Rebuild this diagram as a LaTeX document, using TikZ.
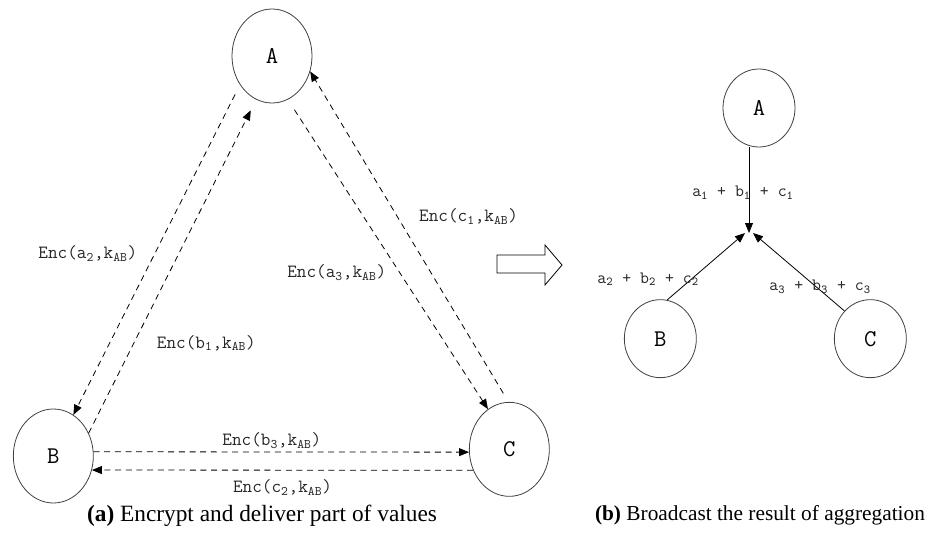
\documentclass[tikz,border=0pt]{standalone}
\usepackage{fontspec}
\setmainfont{Liberation Serif}
\usetikzlibrary{arrows.meta,positioning,shapes.geometric}

\begin{document}
\begin{tikzpicture}[x=0.75pt,y=-0.75pt,font=\ttfamily\fontsize{14}{16}\selectfont,
  party/.style={draw=black!75,line width=0.6pt,ellipse,inner sep=0pt,minimum width=60pt,minimum height=70.5pt,font=\ttfamily\fontsize{18}{20}\selectfont},
  small/.style={party,minimum width=54pt,minimum height=58.5pt},
  enc/.style={dash pattern=on 4.5pt off 3.5pt,line width=0.6pt,-{Triangle[length=7.5pt,width=6pt]}},
  agg/.style={line width=0.6pt,-{Triangle[length=7.5pt,width=6pt]}},
  lbl/.style={inner sep=0pt,text=black!85},
  sumlbl/.style={lbl,font=\ttfamily\fontsize{13}{15}\selectfont},
  subcap/.style={font=\rmfamily\fontsize{17.5}{20}\selectfont}]
\useasboundingbox (0,0) rectangle (936,539);
% (a) pairwise encrypted shares
\node[party] (A) at (272,56) {A};
\node[party,on grid,below left=300pt and 164pt of A] (B) {B};
\node[party,on grid,right=342pt of B,yshift=5pt] (C) {C};
\draw[enc,shorten <=8pt] (A.222) -- node[lbl,pos=.51,left=13pt] (la2) {Enc(a\textsubscript{2},k\textsubscript{AB})} (B.64);
\draw[enc,shorten >=9pt] (B.33) -- node[lbl,pos=.27,right=17pt] (lb1) {Enc(b\textsubscript{1},k\textsubscript{AB})} (A.250);
\draw[enc,shorten <=9pt] (A.290) -- node[lbl,pos=.56,left=10pt] (la3) {Enc(a\textsubscript{3},k\textsubscript{AB})} (C.118);
\draw[enc,shorten <=7.5pt] (C.91) -- node[lbl,pos=.56,right=16pt] (lc1) {Enc(c\textsubscript{1},k\textsubscript{AB})} (A.338);
\draw[enc] (B.6) -- node[lbl,pos=.475,above=2pt] (lb3) {Enc(b\textsubscript{3},k\textsubscript{AB})} (C.184);
\draw[enc] (C.210) -- node[lbl,pos=.5,below=7pt] (lc2) {Enc(c\textsubscript{2},k\textsubscript{AB})} (B.340);
\node[subcap] (capa) at (262,516) {\textbf{(a)} Encrypt and deliver part of values};
% hollow arrow between the panels
\draw[line width=0.6pt] (497,255) -- (545,255) -- (545,245) -- (562,265) -- (545,285) -- (545,273) -- (497,273) -- cycle;
% (b) broadcast of the sums
\node[small] (A2) at (759,108) {A};
\node[small,on grid,below left=173pt and 74pt of A2] (B2) {B};
\node[small,on grid,right=157.5pt of B2] (C2) {C};
\coordinate (sum) at (749,233);
\draw[agg] (A2.south -| sum) -- node[sumlbl,pos=.53,xshift=-4.5pt] (s1) {a\textsubscript{1} + b\textsubscript{1} + c\textsubscript{1}} (sum);
\draw[agg] (B2.80) -- node[sumlbl,pos=.31,anchor=east,xshift=6pt] (s2) {a\textsubscript{2} + b\textsubscript{2} + c\textsubscript{2}} ([xshift=-3pt]sum);
\draw[agg] (C2.133) -- node[sumlbl,pos=.31,xshift=3pt] (s3) {a\textsubscript{3} + b\textsubscript{3} + c\textsubscript{3}} ([xshift=3pt]sum);
\node[subcap,font=\rmfamily\fontsize{16}{19}\selectfont] (capb) at (760,515) {\textbf{(b)} Broadcast the result of aggregation};
\end{tikzpicture}
\end{document}
